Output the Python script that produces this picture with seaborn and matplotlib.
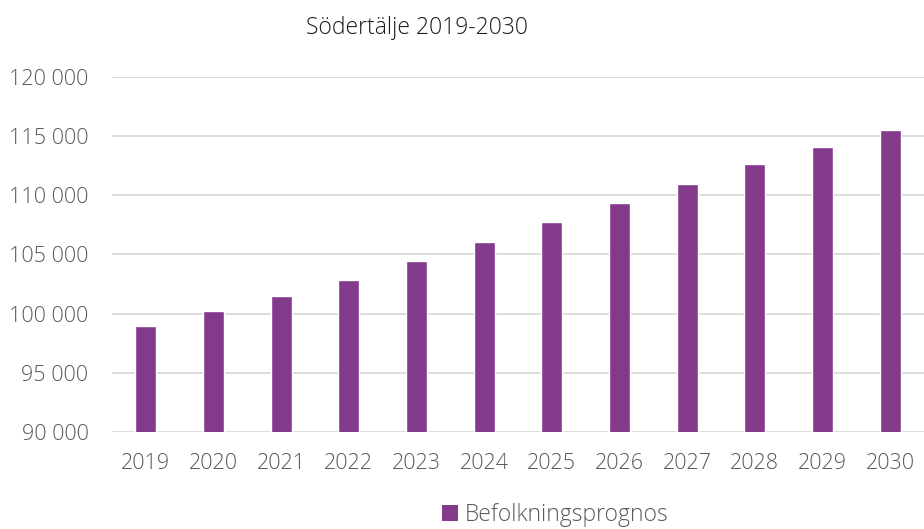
import matplotlib
matplotlib.use("Agg")
import matplotlib.pyplot as plt
import seaborn as sns
import pandas as pd
from matplotlib.ticker import FuncFormatter
from matplotlib.patches import Patch

years = ["2019", "2020", "2021", "2022", "2023", "2024",
         "2025", "2026", "2027", "2028", "2029", "2030"]
population = [98950, 100220, 101490, 102840, 104440, 106050,
              107740, 109340, 110950, 112640, 114070, 115510]
series_name = "Befolkningsprognos"
title = "Södertälje 2019-2030"

bar_color = "#833A8B"
text_color = "#595959"
grid_color = "#D9D9D9"

sns.set_theme(style="white")
plt.rcParams["font.family"] = ["Open Sans", "DejaVu Sans"]

df = pd.DataFrame({"År": years, "Invånare": population})

fig = plt.figure(figsize=(9.24, 5.29), dpi=100)
ax = fig.add_axes([112 / 924, 1 - 432 / 529, 1 - 112 / 924, (432 - 77) / 529])

sns.barplot(data=df, x="År", y="Invånare", color=bar_color, saturation=1,
            width=0.31, ax=ax, zorder=3)

ax.set_ylim(90000, 120000)
ax.set_yticks(range(90000, 120001, 5000))
ax.yaxis.set_major_formatter(FuncFormatter(lambda v, _: f"{int(v):,}".replace(",", " ")))
ax.set_xlim(-0.5, len(years) - 0.5)
ax.grid(axis="y", color=grid_color, linewidth=1.3, zorder=0)
ax.set_axisbelow(True)
for s in ax.spines.values():
    s.set_visible(False)
ax.set_xlabel("")
ax.set_ylabel("")
ax.tick_params(axis="both", length=0, labelsize=15.5, labelcolor=text_color)
ax.tick_params(axis="y", pad=17)
ax.tick_params(axis="x", pad=15)
for lab in ax.get_xticklabels() + ax.get_yticklabels():
    lab.set_fontweight("light")

fig.text(417 / 924, 1 - 28 / 529, title, ha="center", va="center",
         fontsize=16.5, color="#1a1a1a", fontweight="light")

handle = Patch(facecolor=bar_color, edgecolor="none")
fig.legend([handle], [series_name], loc="center", bbox_to_anchor=(555 / 924, 1 - 515 / 529),
           frameon=False, labelcolor=text_color,
           handlelength=0.7, handleheight=0.7, handletextpad=0.3,
           prop={"weight": "light", "size": 16.5})

fig.savefig("out.png", dpi=100)
